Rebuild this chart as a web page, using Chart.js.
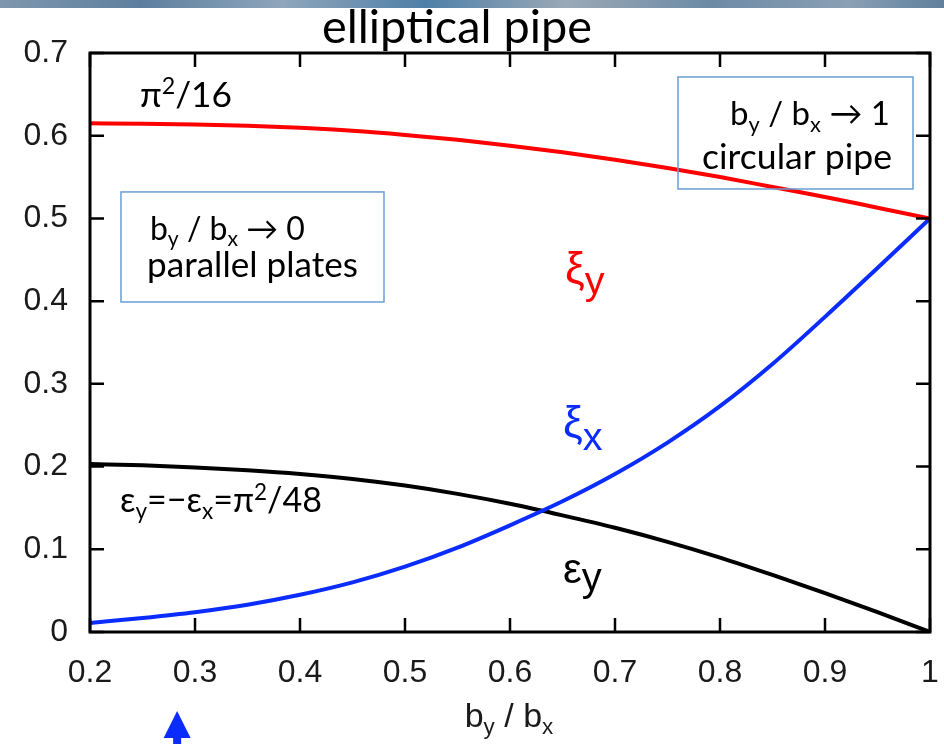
<!DOCTYPE html>
<html><head><meta charset="utf-8">
<script src="https://cdn.jsdelivr.net/npm/chart.js@4.4.0/dist/chart.umd.min.js"></script>
<style>html,body{margin:0;padding:0;background:#fff;}#wrap{width:944px;height:744px;}</style>
</head><body><div id="wrap"><canvas id="c" width="944" height="744"></canvas></div>
<script>
// ---- data ----
const ratio = [0.2,0.25,0.3,0.35,0.4,0.45,0.5,0.55,0.6,0.65,0.7,0.75,0.8,0.85,0.9,0.95,1.0];
const xiY   = [0.615,0.6145,0.6135,0.612,0.6095,0.606,0.601,0.595,0.588,0.580,0.571,0.561,0.550,0.538,0.526,0.513,0.500];
const xiX   = [0.011,0.017,0.024,0.033,0.045,0.060,0.079,0.102,0.129,0.158,0.191,0.229,0.273,0.324,0.381,0.440,0.500];
const epsY  = [0.203,0.2015,0.199,0.1955,0.191,0.185,0.177,0.167,0.155,0.141,0.126,0.109,0.090,0.069,0.047,0.024,0.000];
const xTicks = [0.2,0.3,0.4,0.5,0.6,0.7,0.8,0.9,1.0];
const xTickLabels = ['0.2','0.3','0.4','0.5','0.6','0.7','0.8','0.9','1'];
const yTicks = [0,0.1,0.2,0.3,0.4,0.5,0.6,0.7];
const yTickLabels = ['0','0.1','0.2','0.3','0.4','0.5','0.6','0.7'];
const markerRatio = 0.283; // blue arrow below the axis

const CAL = "Lato, 'Open Sans', sans-serif";
const HEL = "'Liberation Sans', Arial, sans-serif";

function richWidth(ctx, parts, base){
  let w = 0;
  for (const p of parts){ ctx.font = `${(p.s||1)*base}px ${p.f||CAL}`; w += ctx.measureText(p.t).width; }
  return w;
}
function fitBase(ctx, parts, target){ return 100*target/richWidth(ctx, parts, 100); }
function drawRich(ctx, parts, x, y, base, align, color){
  const w = richWidth(ctx, parts, base);
  let cx = align === 'right' ? x - w : (align === 'center' ? x - w/2 : x);
  ctx.fillStyle = color; ctx.textBaseline = 'alphabetic'; ctx.textAlign = 'left';
  for (const p of parts){
    ctx.font = `${(p.s||1)*base}px ${p.f||CAL}`;
    ctx.fillText(p.t, cx, y + (p.dy||0)*base);
    cx += ctx.measureText(p.t).width;
  }
}
const SUB = {s:0.66, dy:0.2};
const SUP = {s:0.66, dy:-0.36};

const decor = {
  id:'decor',
  beforeDraw(chart){
    const ctx = chart.ctx;
    ctx.save();
    ctx.fillStyle = '#fff'; ctx.fillRect(0,0,chart.width,chart.height);
    const g = ctx.createLinearGradient(0,0,chart.width,0);
    g.addColorStop(0,'#7f97ad'); g.addColorStop(0.15,'#5d7f9f'); g.addColorStop(0.3,'#8fa6bb');
    g.addColorStop(0.45,'#4f7fa8'); g.addColorStop(0.6,'#9aa9b6'); g.addColorStop(0.75,'#6d8aa5');
    g.addColorStop(0.9,'#8aa0b4'); g.addColorStop(1,'#5f7f9c');
    ctx.fillStyle = g; ctx.fillRect(0,0,chart.width,8);
    ctx.restore();
  },
  afterDraw(chart){
    const ctx = chart.ctx, a = chart.chartArea, xs = chart.scales.x, ys = chart.scales.y;
    const X = v => xs.getPixelForValue(v), Y = v => ys.getPixelForValue(v);
    ctx.save();
    // frame and inward ticks
    ctx.strokeStyle = '#000'; ctx.lineWidth = 3; ctx.lineCap = 'butt';
    ctx.strokeRect(a.left, a.top, a.right-a.left, a.bottom-a.top);
    ctx.lineWidth = 2.5;
    ctx.beginPath();
    for (const v of xTicks){ const px = X(v); ctx.moveTo(px,a.bottom); ctx.lineTo(px,a.bottom-14); ctx.moveTo(px,a.top); ctx.lineTo(px,a.top+14); }
    for (const v of yTicks){ const py = Y(v); ctx.moveTo(a.left,py); ctx.lineTo(a.left+14,py); ctx.moveTo(a.right,py); ctx.lineTo(a.right-14,py); }
    ctx.stroke();

    // title
    const tParts = [{t:'elliptical pipe'}];
    drawRich(ctx, tParts, 457, 43, fitBase(ctx,tParts,270), 'center', '#000');

    // x axis title
    const xt = [{t:'b',f:HEL},{t:'y',f:HEL,...SUB},{t:' / b',f:HEL},{t:'x',f:HEL,...SUB}];
    drawRich(ctx, xt, 509, 727, 34, 'center', '#1a1a1a');

    // pi^2/16
    const p16 = [{t:'π'},{t:'2',...SUP},{t:'/16'}];
    drawRich(ctx, p16, X(0.2476), Y(0.6347), fitBase(ctx,p16,92), 'left', '#000');

    // boxes
    ctx.strokeStyle = '#6a9fd4'; ctx.lineWidth = 1.5;
    ctx.strokeRect(X(0.2295), Y(0.532), X(0.48)-X(0.2295), Y(0.399)-Y(0.532));
    ctx.strokeRect(X(0.76), Y(0.671), X(0.9838)-X(0.76), Y(0.5356)-Y(0.671));
    const b0 = [{t:'b'},{t:'y',...SUB},{t:' / b'},{t:'x',...SUB},{t:' → 0'}];
    drawRich(ctx, b0, X(0.2571), Y(0.4739), fitBase(ctx,b0,155), 'left', '#000');
    const pp = [{t:'parallel plates'}];
    drawRich(ctx, pp, X(0.2543), Y(0.4292), fitBase(ctx,pp,211), 'left', '#000');
    const b1 = [{t:'b'},{t:'y',...SUB},{t:' / b'},{t:'x',...SUB},{t:' → 1'}];
    drawRich(ctx, b1, X(0.9619), Y(0.613), fitBase(ctx,b1,160), 'right', '#000');
    const cp = [{t:'circular pipe'}];
    drawRich(ctx, cp, X(0.9638), Y(0.5598), fitBase(ctx,cp,190), 'right', '#000');

    // formula
    const fm = [{t:'ε'},{t:'y',...SUB},{t:'=−ε'},{t:'x',...SUB},{t:'=π'},{t:'2',...SUP},{t:'/48'}];
    drawRich(ctx, fm, X(0.2286), Y(0.1451), fitBase(ctx,fm,202), 'left', '#000');

    // curve labels
    drawRich(ctx, [{t:'ξ',f:HEL},{t:'y',f:HEL,s:0.9,dy:0.26}], X(0.6524), Y(0.422), 44, 'left', '#ff0000');
    drawRich(ctx, [{t:'ξ',f:HEL},{t:'x',f:HEL,s:0.9,dy:0.28}], X(0.6505), Y(0.2353), 44, 'left', '#0b2cff');
    drawRich(ctx, [{t:'ε',f:HEL},{t:'y',f:HEL,s:0.95,dy:0.2}], X(0.6505), Y(0.0593), 42, 'left', '#000');

    // blue arrow marker
    const ax = X(markerRatio);
    ctx.fillStyle = '#0b2cff';
    ctx.beginPath(); ctx.moveTo(ax,711); ctx.lineTo(ax+13.5,738); ctx.lineTo(ax-13.5,738); ctx.closePath(); ctx.fill();
    ctx.fillRect(ax-4, 737, 8, 8);
    ctx.restore();
  }
};

const mk = arr => ratio.map((r,i)=>({x:r, y:arr[i]}));
new Chart(document.getElementById('c'), {
  type:'line',
  data:{ datasets:[
    {label:'ξy', data:mk(xiY), borderColor:'#ff0000', borderWidth:4, pointRadius:0, cubicInterpolationMode:'monotone'},
    {label:'ξx', data:mk(xiX), borderColor:'#0b2cff', borderWidth:4, pointRadius:0, cubicInterpolationMode:'monotone'},
    {label:'εy', data:mk(epsY), borderColor:'#000000', borderWidth:4, pointRadius:0, cubicInterpolationMode:'monotone'}
  ]},
  options:{
    responsive:false, animation:false, devicePixelRatio:1,
    layout:{padding:{top:53,right:14,left:0,bottom:0}},
    plugins:{legend:{display:false}, tooltip:{enabled:false}, title:{display:false}},
    scales:{
      x:{type:'linear', min:0.2, max:1,
        afterBuildTicks(s){ s.ticks = xTicks.map(v=>({value:v})); },
        afterFit(s){ s.height = 112; s.paddingLeft = 0; s.paddingRight = 0; },
        grid:{display:false, drawTicks:false}, border:{display:false},
        ticks:{padding:22, color:'#1a1a1a', font:{family:HEL, size:32}, maxRotation:0, autoSkip:false,
          callback:(v,i)=>xTickLabels[i]}},
      y:{type:'linear', min:0, max:0.7,
        afterBuildTicks(s){ s.ticks = yTicks.map(v=>({value:v})); },
        afterFit(s){ s.width = 90; s.paddingTop = 0; s.paddingBottom = 0; },
        grid:{display:false, drawTicks:false}, border:{display:false},
        ticks:{padding:22, color:'#1a1a1a', font:{family:HEL, size:32}, autoSkip:false,
          callback:(v,i)=>yTickLabels[i]}}
    }
  },
  plugins:[decor]
});
</script></body></html>
